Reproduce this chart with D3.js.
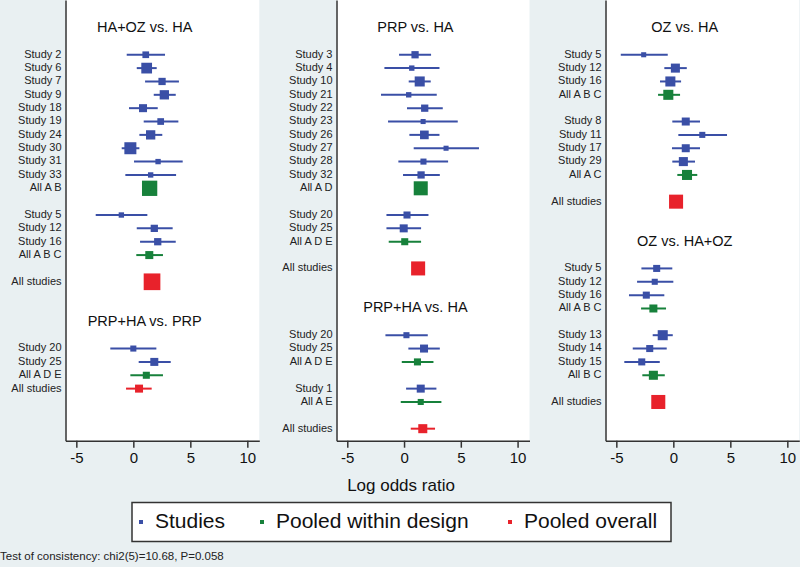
<!DOCTYPE html>
<html>
<head>
<meta charset="utf-8">
<script src="https://cdn.jsdelivr.net/npm/d3@7"></script>
<style>
  body { margin: 0; background: #e9f0f2; }
  svg { display: block; font-family: "Liberation Sans", Arial, sans-serif; }
</style>
</head>
<body>
<svg width="800" height="567"></svg>
<script>
// rows: [label, log odds ratio, lower CI, upper CI, weight]   (null = empty row)
var haozVsHa = [
  ["Study 2", 1.09, -0.58, 2.78, 2.8],
  ["Study 6", 1.17, 0.30, 2.05, 7.2],
  ["Study 7", 2.52, 1.03, 4.00, 3.3],
  ["Study 9", 2.72, 1.79, 3.72, 5.4],
  ["Study 18", 0.85, -0.38, 2.14, 4.0],
  ["Study 19", 2.40, 0.91, 3.95, 2.8],
  ["Study 24", 1.52, 0.53, 2.54, 5.4],
  ["Study 30", -0.26, -1.02, 0.53, 9.0],
  ["Study 31", 2.17, 0.06, 4.33, 1.8],
  ["Study 33", 1.52, -0.70, 3.75, 1.8],
  ["All A B", 1.43, 1.00, 1.90, 14.6],
  null,
  ["Study 5", -1.05, -3.30, 1.23, 1.8],
  ["Study 12", 1.84, 0.30, 3.45, 3.3],
  ["Study 16", 2.14, 0.59, 3.72, 3.3],
  ["All A B C", 1.40, 0.26, 2.60, 4.0],
  null,
  ["All studies", 1.64, 1.20, 2.10, 17.4]
];
var prphaVsPrp = [
  ["Study 20", 0.00, -2.02, 2.02, 2.3],
  ["Study 25", 1.84, 0.47, 3.28, 4.0],
  ["All A D E", 1.14, -0.26, 2.60, 3.1],
  ["All studies", 0.50, -0.64, 1.61, 4.0]
];
var prpVsHa = [
  ["Study 3", 0.97, -0.44, 2.38, 3.3],
  ["Study 4", 0.68, -1.73, 3.12, 1.8],
  ["Study 10", 1.38, 0.41, 2.35, 6.3],
  ["Study 21", 0.41, -2.03, 2.88, 1.8],
  ["Study 22", 1.82, 0.26, 3.41, 3.3],
  ["Study 23", 1.68, -1.41, 4.73, 1.6],
  ["Study 26", 1.79, 0.47, 3.12, 4.7],
  ["Study 27", 3.70, 0.85, 6.60, 1.6],
  ["Study 28", 1.71, -0.50, 3.88, 2.3],
  ["Study 32", 1.50, -0.09, 3.15, 3.3],
  ["All A D", 1.47, 1.05, 1.90, 12.3],
  null,
  ["Study 20", 0.26, -1.55, 2.15, 3.1],
  ["Study 25", -0.03, -1.55, 1.50, 4.0],
  ["All A D E", 0.06, -1.35, 1.50, 3.1],
  null,
  ["All studies", 1.24, 0.85, 1.65, 12.3]
];
var prphaVsHa = [
  ["Study 20", 0.21, -1.64, 2.09, 2.3],
  ["Study 25", 1.76, 0.38, 3.15, 4.0],
  ["All A D E", 1.18, -0.20, 2.59, 3.1],
  null,
  ["Study 1", 1.47, 0.18, 2.85, 4.0],
  ["All A E", 1.47, -0.29, 3.29, 2.3],
  null,
  ["All studies", 1.65, 0.59, 2.73, 5.1]
];
var ozVsHa = [
  ["Study 5", -2.60, -4.61, -0.49, 1.6],
  ["Study 12", 0.18, -0.79, 1.18, 5.1],
  ["Study 16", -0.26, -1.17, 0.68, 6.3],
  ["All A B C", -0.44, -1.34, 0.59, 6.3],
  null,
  ["Study 8", 1.09, -0.09, 2.34, 4.0],
  ["Study 11", 2.54, 0.44, 4.71, 2.3],
  ["Study 17", 1.09, -0.12, 2.34, 4.0],
  ["Study 29", 0.88, -0.09, 1.90, 5.1],
  ["All A C", 1.20, 0.35, 2.10, 6.3],
  null,
  ["All studies", 0.24, -0.15, 0.65, 12.3]
];
var ozVsHaoz = [
  ["Study 5", -1.46, -2.80, -0.09, 3.1],
  ["Study 12", -1.63, -3.18, 0.00, 2.3],
  ["Study 16", -2.37, -3.89, -0.79, 3.1],
  ["All A B C", -1.75, -2.83, -0.64, 4.0],
  null,
  ["Study 13", -0.93, -1.81, -0.05, 6.3],
  ["Study 14", -2.07, -3.56, -0.58, 3.1],
  ["Study 15", -2.77, -4.30, -1.19, 3.1],
  ["All B C", -1.75, -2.72, -0.75, 5.1],
  null,
  ["All studies", -1.32, -1.70, -0.95, 12.3]
];

var titles = [
  ["HA+OZ vs. HA", "PRP+HA vs. PRP"],
  ["PRP vs. HA", "PRP+HA vs. HA"],
  ["OZ vs. HA", "OZ vs. HA+OZ"]
];
var sections = [
  [haozVsHa, prphaVsPrp],
  [prpVsHa, prphaVsHa],
  [ozVsHa, ozVsHaoz]
];
var xTicks = [-5, 0, 5, 10];
var legendLabels = ["Studies", "Pooled within design", "Pooled overall"];
var footnote = "Test of consistency: chi2(5)=10.68, P=0.058";

var colors = { study: "#3a4fa6", design: "#17813b", overall: "#e8222b" };
function kind(label) {
  if (label == "All studies") return "overall";
  if (label.indexOf("All ") == 0) return "design";
  return "study";
}

var svg = d3.select("svg");
var plotBottom = 440.7;

// row index -> y
var yScale = d3.scaleLinear().domain([-2.1, 30.9]).range([0, plotBottom]);
var sizeScale = d3.scaleSqrt().domain([0, 16]).range([0, 16]);

// pixel ranges of the three plot regions
var ranges = [[65.5, 259.3], [336.5, 529.5], [605.5, 799.3]];

ranges.forEach(function(r, c) {
  var xScale = d3.scaleLinear().domain([-5.95, 11.05]).range(r);

  svg.append("rect")
    .attr("x", r[0]).attr("y", 0)
    .attr("width", r[1] - r[0]).attr("height", plotBottom)
    .attr("fill", "#fff");

  // rows with row index
  var rows = [];
  var k = 0;
  sections[c].forEach(function(sec, s) {
    rows.push({ title: titles[c][s], k: k });
    k += 2;
    sec.forEach(function(d) {
      if (d) rows.push({ label: d[0], est: d[1], lo: d[2], hi: d[3], w: d[4], k: k });
      k++;
    });
    k += 2;
  });

  var g = svg.append("g");

  g.selectAll(".title")
    .data(rows.filter(function(d) { return d.title; }))
    .enter().append("text")
    .attr("x", xScale(1))
    .attr("y", function(d) { return yScale(d.k); })
    .attr("dominant-baseline", "middle")
    .attr("text-anchor", "middle")
    .attr("font-size", 14.5)
    .attr("fill", "#111")
    .text(function(d) { return d.title; });

  var pts = rows.filter(function(d) { return d.label; });

  g.selectAll(".lab")
    .data(pts)
    .enter().append("text")
    .attr("x", r[0] - 4)
    .attr("y", function(d) { return yScale(d.k); })
    .attr("dominant-baseline", "middle")
    .attr("text-anchor", "end")
    .attr("font-size", 11)
    .attr("fill", "#222")
    .text(function(d) { return d.label; });

  g.selectAll(".ci")
    .data(pts)
    .enter().append("line")
    .attr("x1", function(d) { return xScale(d.lo); })
    .attr("x2", function(d) { return xScale(d.hi); })
    .attr("y1", function(d) { return yScale(d.k); })
    .attr("y2", function(d) { return yScale(d.k); })
    .attr("stroke", function(d) { return colors[kind(d.label)]; })
    .attr("stroke-width", 2);

  g.selectAll(".pt")
    .data(pts)
    .enter().append("rect")
    .attr("x", function(d) { return xScale(d.est) - sizeScale(d.w) / 2; })
    .attr("y", function(d) { return yScale(d.k) - sizeScale(d.w) / 2; })
    .attr("width", function(d) { return sizeScale(d.w); })
    .attr("height", function(d) { return sizeScale(d.w); })
    .attr("fill", function(d) { return colors[kind(d.label)]; });

  // axes
  var yAxis = svg.append("g")
    .attr("transform", "translate(" + r[0] + ",0)")
    .call(d3.axisLeft(yScale).tickValues([]).tickSizeOuter(0));
  yAxis.select(".domain").attr("stroke", "#333").attr("stroke-width", 1.5);

  var xAxis = svg.append("g")
    .attr("transform", "translate(0," + plotBottom + ")")
    .call(d3.axisBottom(xScale).tickValues(xTicks)
      .tickFormat(function(d) { return String(d); })
      .tickSize(7).tickSizeOuter(0).tickPadding(5));
  xAxis.select(".domain").attr("stroke", "#333").attr("stroke-width", 1.5);
  xAxis.selectAll(".tick line").attr("stroke", "#333").attr("stroke-width", 1.5);
  xAxis.selectAll(".tick text")
    .attr("font-size", 15)
    .attr("font-family", "Liberation Sans, Arial, sans-serif")
    .attr("fill", "#111");
});

svg.append("text")
  .attr("x", 401).attr("y", 487)
  .attr("dominant-baseline", "middle")
  .attr("text-anchor", "middle")
  .attr("font-size", 17)
  .attr("fill", "#111")
  .text("Log odds ratio");

// legend
svg.append("rect")
  .attr("x", 132).attr("y", 502.5)
  .attr("width", 539).attr("height", 39)
  .attr("fill", "#fff")
  .attr("stroke", "#333")
  .attr("stroke-width", 1.5);

var legendX = [141, 262, 510];
var legendKinds = ["study", "design", "overall"];
legendLabels.forEach(function(t, i) {
  svg.append("rect")
    .attr("x", legendX[i] - 2).attr("y", 520)
    .attr("width", 4).attr("height", 4)
    .attr("fill", colors[legendKinds[i]]);
  svg.append("text")
    .attr("x", legendX[i] + 14).attr("y", 522.5)
    .attr("dominant-baseline", "middle")
    .attr("font-size", 21)
    .attr("fill", "#111")
    .text(t);
});

svg.append("text")
  .attr("x", 0).attr("y", 557)
  .attr("dominant-baseline", "middle")
  .attr("font-size", 11.5)
  .attr("fill", "#222")
  .text(footnote);
</script>
</body>
</html>
